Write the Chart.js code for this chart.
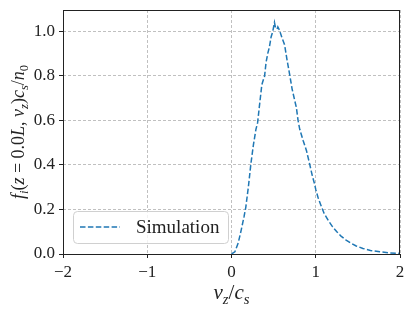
<!DOCTYPE html>
<html>
<head>
<meta charset="utf-8">
<title>Ion distribution</title>
<script src="https://cdn.jsdelivr.net/npm/chart.js"></script>
<style>
  html, body { margin:0; padding:0; background:#fff; }
  #wrap { width:415px; height:311px; }
</style>
</head>
<body>
<div id="wrap"><canvas id="chart" width="415" height="311"></canvas></div>
<script>
// ---------------- Data ----------------
const vz = [0.0, 0.04, 0.08, 0.115, 0.15, 0.17, 0.2, 0.23, 0.26, 0.29, 0.31, 0.33, 0.36, 0.38, 0.39,
  0.41, 0.43, 0.45, 0.47, 0.49, 0.51, 0.52, 0.54, 0.55, 0.57, 0.6, 0.63, 0.66, 0.69, 0.72, 0.75,
  0.77, 0.79, 0.81, 0.85, 0.89, 0.93, 0.96, 0.985, 1.0, 1.03, 1.06, 1.1, 1.15, 1.2, 1.25, 1.3,
  1.36, 1.42, 1.48, 1.56, 1.65, 1.76, 1.88, 2.0];
const fi = [0.0, 0.01, 0.05, 0.107, 0.17, 0.211, 0.3, 0.405, 0.49, 0.56, 0.59, 0.66, 0.76, 0.785, 0.79,
  0.86, 0.9, 0.93, 0.975, 1.0, 1.04, 1.02, 1.01, 1.02, 1.005, 0.97, 0.94, 0.87, 0.807, 0.74, 0.69,
  0.658, 0.6, 0.56, 0.51, 0.464, 0.4, 0.35, 0.316, 0.29, 0.25, 0.22, 0.182, 0.15, 0.122, 0.1, 0.08,
  0.0625, 0.048, 0.036, 0.025, 0.016, 0.01, 0.005, 0.003];
const xTicks = [-2, -1, 0, 1, 2];
const yTicks = [0.0, 0.2, 0.4, 0.6, 0.8, 1.0];
const seriesLabel = "Simulation";

const SERIF = "'Liberation Serif', 'DejaVu Serif', serif";
const INK = "#222";

// ---------------- Rich text (subscripts) ----------------
function drawRich(ctx, segs, cx, cy, size, rot) {
  const fontOf = s => (s.it ? "italic " : "") + (s.sub ? size * 0.7 : size) + "px " + SERIF;
  let total = 0;
  segs.forEach(s => { ctx.font = fontOf(s); s.w = ctx.measureText(s.t).width; total += s.w; });
  ctx.save();
  ctx.translate(cx, cy);
  if (rot) ctx.rotate(rot);
  ctx.fillStyle = INK;
  ctx.textBaseline = "alphabetic";
  ctx.textAlign = "left";
  let x = -total / 2;
  segs.forEach(s => {
    ctx.font = fontOf(s);
    ctx.fillText(s.t, x, size * 0.33 + (s.sub ? size * 0.22 : 0));
    x += s.w;
  });
  ctx.restore();
}

const xTitle = [
  { t: "v", it: true }, { t: "z", it: true, sub: true }, { t: "/" },
  { t: "c", it: true }, { t: "s", it: true, sub: true }
];
const yTitle = [
  { t: "f", it: true }, { t: "i", it: true, sub: true }, { t: "(" }, { t: "z", it: true },
  { t: " = 0.0" }, { t: "L", it: true }, { t: ", " }, { t: "v", it: true },
  { t: "z", it: true, sub: true }, { t: ")" }, { t: "c", it: true }, { t: "s", it: true, sub: true },
  { t: "/" }, { t: "n", it: true }, { t: "0", sub: true }
];

// ---------------- Frame, titles, legend ----------------
const decor = {
  id: "decor",
  afterDraw(chart) {
    const ctx = chart.ctx;
    const ca = chart.chartArea;
    ctx.save();
    ctx.strokeStyle = INK;
    ctx.lineWidth = 1;
    ctx.strokeRect(ca.left + 0.5, ca.top + 0.5, ca.right - ca.left - 1, ca.bottom - ca.top);
    ctx.restore();

    drawRich(ctx, xTitle, (ca.left + ca.right) / 2, 292, 21, 0);
    drawRich(ctx, yTitle, 18, (ca.top + ca.bottom) / 2, 18, -Math.PI / 2);

    // legend in lower left
    const ds = chart.data.datasets[0];
    const lx = ca.left + 10, ly = ca.bottom - 43;
    ctx.save();
    ctx.beginPath();
    ctx.roundRect(lx + 0.5, ly + 0.5, 155, 32, 4);
    ctx.fillStyle = "rgba(255,255,255,0.8)";
    ctx.fill();
    ctx.strokeStyle = "#d0d0d0";
    ctx.lineWidth = 1;
    ctx.stroke();
    ctx.beginPath();
    ctx.setLineDash(ds.borderDash);
    ctx.strokeStyle = ds.borderColor;
    ctx.lineWidth = ds.borderWidth;
    ctx.moveTo(lx + 7, ly + 16);
    ctx.lineTo(lx + 47, ly + 16);
    ctx.stroke();
    ctx.setLineDash([]);
    ctx.fillStyle = INK;
    ctx.font = "19px " + SERIF;
    ctx.textBaseline = "middle";
    ctx.fillText(ds.label, lx + 63, ly + 17);
    ctx.restore();
  }
};

// ---------------- Chart ----------------
new Chart(document.getElementById("chart"), {
  type: "line",
  data: {
    datasets: [{
      label: seriesLabel,
      data: vz.map((v, i) => ({ x: v, y: fi[i] })),
      borderColor: "#1f77b4",
      borderWidth: 1.5,
      borderDash: [5.5, 2.4],
      pointRadius: 0,
      tension: 0,
      fill: false
    }]
  },
  options: {
    responsive: false,
    animation: false,
    layout: { padding: { top: 10, right: 15, left: 0, bottom: 0 } },
    plugins: { legend: { display: false }, tooltip: { enabled: false } },
    scales: {
      x: {
        type: "linear",
        min: -2, max: 2,
        afterBuildTicks: s => { s.ticks = xTicks.map(v => ({ value: v })); },
        afterFit: s => { s.height = 57; s.paddingLeft = 0; s.paddingRight = 0; },
        ticks: {
          color: INK, padding: 4,
          font: { family: SERIF, size: 17 },
          callback: v => String(v).replace("-", "\u2212")
        },
        grid: { color: "#b0b0b0", lineWidth: 0.8, tickLength: 4, tickColor: INK, tickWidth: 1 },
        border: { display: false, dash: [3, 2] }
      },
      y: {
        min: 0, max: 1.096,
        afterBuildTicks: s => { s.ticks = yTicks.map(v => ({ value: v })); },
        afterFit: s => { s.width = 63; s.paddingTop = 0; s.paddingBottom = 0; },
        ticks: {
          color: INK, padding: 4,
          font: { family: SERIF, size: 17 },
          callback: v => v.toFixed(1)
        },
        grid: { color: "#b0b0b0", lineWidth: 0.8, tickLength: 4, tickColor: INK, tickWidth: 1 },
        border: { display: false, dash: [3, 2] }
      }
    }
  },
  plugins: [decor]
});
</script>
</body>
</html>
